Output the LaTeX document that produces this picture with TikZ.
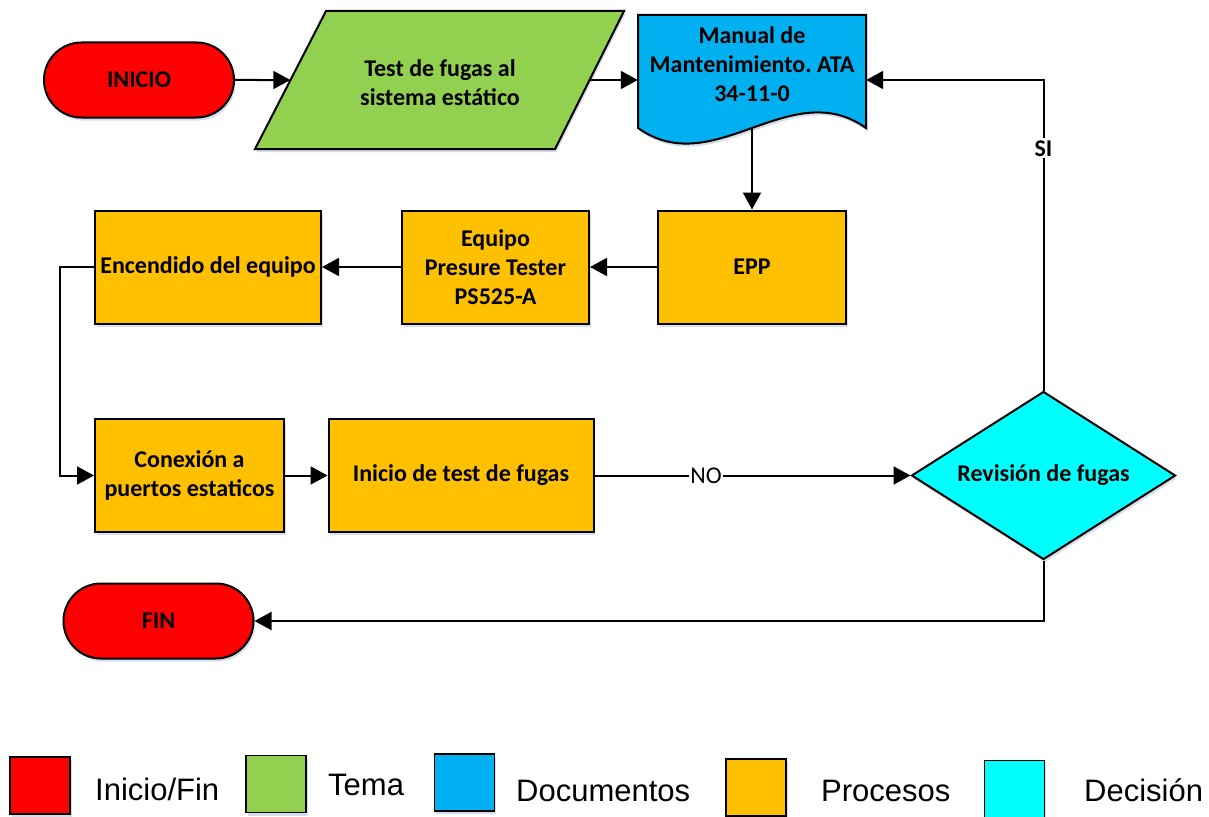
\documentclass[tikz,border=0pt]{standalone}
\usepackage{fontspec}
\setmainfont{Carlito}
\newfontfamily\legfont{Liberation Sans}
\usetikzlibrary{calc}
\usetikzlibrary{shapes}
\usetikzlibrary{shapes.geometric}
\usetikzlibrary{shapes.misc}
\usetikzlibrary{arrows.meta}
\usetikzlibrary{shadows}

\definecolor{rojo}{HTML}{FF0000}
\definecolor{verde}{HTML}{92D050}
\definecolor{azul}{HTML}{00B0F0}
\definecolor{naranja}{HTML}{FFC000}
\definecolor{cian}{HTML}{00FFFF}
\definecolor{sombracol}{HTML}{C5D0E3}

\begin{document}
\frenchspacing
\begin{tikzpicture}[x=1pt, y=-1pt,
    every node/.style={font=\fontsize{24}{29}\selectfont\bfseries},
    sombra/.style={drop shadow={shadow xshift=1.5pt, shadow yshift=-3pt, opacity=.7, fill=sombracol}},
    base/.style={draw, line width=2pt, sombra, align=center, inner sep=0pt},
    terminal/.style={base, rounded rectangle, fill=rojo, minimum width=190pt, minimum height=75pt},
    proceso/.style={base, rectangle, fill=naranja, minimum height=113pt},
    decision/.style={base, diamond, aspect=1.571, fill=cian, minimum width=264pt, minimum height=168pt},
    flecha/.style={line width=2pt, -{Triangle[length=17pt, width=18pt]}},
    cuadro/.style={draw, line width=1.5pt, sombra, minimum width=60pt, minimum height=57pt, inner sep=0pt},
    leyenda/.style={font=\legfont\fontsize{31}{36}\selectfont, anchor=base west, inner sep=0pt}]
    \useasboundingbox (0,0) rectangle (1209,816);

    % fila de arriba
    \node (inicio) [terminal] at (139,80) {INICIO};
    \filldraw[fill=verde, line width=2pt, sombra] (255,149) -- (326,11) -- (624,11) -- (555,149) -- cycle;
    \node (tema) [minimum width=299pt, minimum height=138pt, inner sep=0pt] at (440,80) {};
    \node (tematxt) [align=center] at (440,83) {Test de fugas al\\sistema estático};
    \filldraw[fill=azul, line width=2pt, sombra] (638,15) -- (866,15) -- (866,128)
        .. controls (790,74) and (714,182) .. (638,128) -- cycle;
    \node (doc) [minimum width=228pt, minimum height=130pt, inner sep=0pt] at (752,80) {};
    \node (doctxt) [align=center] at (752,64) {Manual de\\Mantenimiento. ATA\\34-11-0};
    \coordinate (docpie) at (752,128);

    % procesos
    \node (epp) [proceso, minimum width=188pt] at (752,267) {EPP};
    \node (equipo) [proceso, minimum width=187pt] at (495.5,267) {Equipo\\Presure Tester\\PS525-A};
    \node (encendido) [proceso, minimum width=226pt] at (208,267) {Encendido del equipo};
    \node (conexion) [proceso, minimum width=189pt] at (189.5,475.5) {Conexión a\\puertos estaticos};
    \node (iniciotest) [proceso, minimum width=265pt] at (461,475.5) {Inicio de test de fugas};
    \node (dec) [decision] at (1043.5,475.5) {Revisión de fugas};
    \node (fin) [terminal] at (158.5,621) {FIN};

    % flechas
    \draw[flecha] (inicio) -- (tema);
    \draw[flecha] (tema) -- (doc);
    \draw[flecha] (docpie) -- (epp);
    \draw[flecha] (epp) -- (equipo);
    \draw[flecha] (equipo) -- (encendido);
    \draw[flecha] (encendido.west) -- ++(-34,0) |- (conexion.west);
    \draw[flecha] (conexion) -- (iniciotest);
    \draw[flecha] (iniciotest) -- node[pos=.353, fill=white, inner sep=1pt,
        font=\fontsize{24}{29}\selectfont] {NO} (dec);
    \draw[flecha] (dec.north) |- node[pos=.39, fill=white, inner sep=2pt] {SI} (doc.east);
    \draw[flecha] (dec.south) |- (fin.east);

    % leyenda
    \node (cuadro1) [cuadro, fill=rojo] at (40,785.5) {};
    \node (texto1) [leyenda] at (95,800) {Inicio/Fin};
    \node (cuadro2) [cuadro, fill=verde] at (276,784) {};
    \node (texto2) [leyenda] at (328,795) {Tema};
    \node (cuadro3) [cuadro, fill=azul] at (464.5,782.5) {};
    \node (texto3) [leyenda] at (516,801) {Documentos};
    \node (cuadro4) [cuadro, fill=naranja] at (756,787.5) {};
    \node (texto4) [leyenda] at (821,801) {Procesos};
    \node (cuadro5) [cuadro, fill=cian] at (1014.5,789) {};
    \node (texto5) [leyenda] at (1084,801) {Decisión};
\end{tikzpicture}
\end{document}
